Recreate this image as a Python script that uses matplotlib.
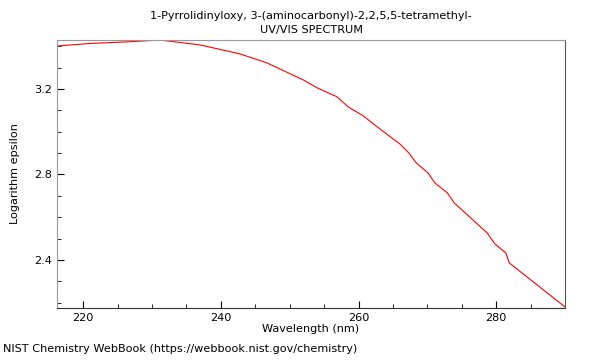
import matplotlib
matplotlib.use('Agg')
import matplotlib.pyplot as plt
from matplotlib.ticker import MultipleLocator

# values
wavelength = [216.2, 221.0, 226.1, 231.2, 237.0, 242.8, 246.7, 252.0, 254.0,
              256.9, 258.5, 260.7, 263.1, 266.0, 267.3, 268.4, 270.1, 271.1,
              272.9, 273.9, 278.7, 279.8, 281.4, 281.9, 290.0]
log_eps = [3.401, 3.413, 3.420, 3.429, 3.406, 3.364, 3.322, 3.242, 3.205,
           3.163, 3.116, 3.074, 3.013, 2.943, 2.901, 2.854, 2.807, 2.760,
           2.714, 2.667, 2.526, 2.475, 2.433, 2.386, 2.180]

fs = 8.1
fig = plt.figure(figsize=(6, 3.6), dpi=100)
ax = fig.add_axes([0.095, 0.1444, 0.8467, 0.7444])
ax.plot(wavelength, log_eps, color='red', lw=0.8)

ax.set_xlim(216.2, 290.0)
ax.set_ylim(2.175, 3.429)
ax.xaxis.set_major_locator(MultipleLocator(20))
ax.xaxis.set_minor_locator(MultipleLocator(5))
ax.yaxis.set_major_locator(MultipleLocator(0.4))
ax.yaxis.set_minor_locator(MultipleLocator(0.1))
ax.tick_params(which='both', direction='in', labelsize=fs, top=False, right=False)
ax.tick_params(which='major', length=5)
ax.tick_params(which='minor', length=3)
for s in ['top', 'left']:
    ax.spines[s].set_color('#999999')
ax.spines['right'].set_color('#555555')
ax.spines['bottom'].set_color('#333333')

ax.set_xlabel('Wavelength (nm)', fontsize=fs, labelpad=1)
ax.set_ylabel('Logarithm epsilon', fontsize=fs, labelpad=10)
ax.set_title('1-Pyrrolidinyloxy, 3-(aminocarbonyl)-2,2,5,5-tetramethyl-\nUV/VIS SPECTRUM',
             fontsize=fs, pad=5, linespacing=1.45)
fig.text(0.005, 0.022, 'NIST Chemistry WebBook (https://webbook.nist.gov/chemistry)',
         fontsize=fs)

fig.savefig('out.png')
